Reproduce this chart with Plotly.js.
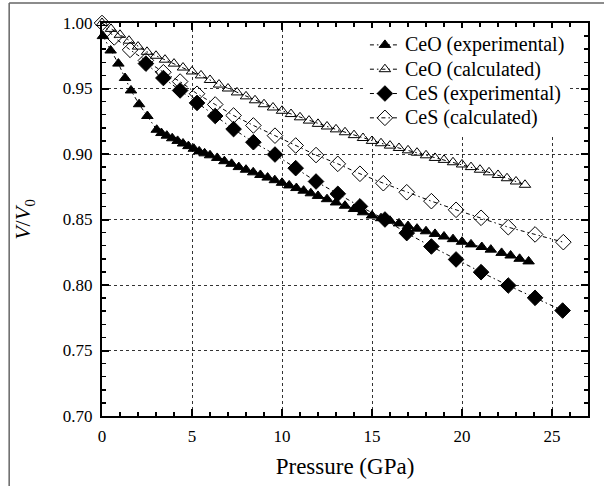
<!DOCTYPE html>
<html>
<head>
<meta charset="utf-8">
<script src="https://cdn.plot.ly/plotly-3.0.1.min.js"></script>
<style>html,body{margin:0;padding:0;background:#fff;}#chart{width:604px;height:486px;}</style>
</head>
<body>
<div id="chart"></div>
<script>
// CeO experimental (filled triangles)
const ceoExpP = [0.05, 0.48, 0.91, 1.28, 1.61, 2.06, 2.52, 3.04, 3.3, 3.6, 3.9, 4.2, 4.5, 4.8, 5.1, 5.4, 5.7, 6.0, 6.4, 6.8, 7.2, 7.6, 8.0, 8.4, 8.8, 9.2, 9.6, 10.0, 10.4, 10.8, 11.2, 11.6, 12.0, 12.5, 13.0, 13.5, 14.0, 14.5, 15.0, 15.5, 16.0, 16.5, 17.0, 17.5, 18.0, 18.5, 19.0, 19.5, 20.0, 20.5, 21.1, 21.6, 22.2, 22.7, 23.2, 23.7];
const ceoExpV = [0.990, 0.979, 0.969, 0.958, 0.9485, 0.938, 0.929, 0.9185, 0.916, 0.914, 0.912, 0.910, 0.908, 0.906, 0.904, 0.902, 0.9005, 0.899, 0.897, 0.8945, 0.8925, 0.890, 0.888, 0.886, 0.884, 0.882, 0.880, 0.878, 0.876, 0.874, 0.872, 0.870, 0.868, 0.8655, 0.863, 0.8605, 0.858, 0.8555, 0.853, 0.851, 0.849, 0.847, 0.845, 0.843, 0.841, 0.839, 0.837, 0.835, 0.833, 0.831, 0.829, 0.827, 0.8245, 0.8225, 0.820, 0.818];

// CeO calculated (open triangles)
const ceoCalP = [0, 0.5, 1.0, 1.5, 2.0, 2.5, 3.0, 3.5, 4.0, 4.5, 5.0, 5.5, 6.0, 6.5, 7.0, 7.5, 8.0, 8.5, 9.0, 9.5, 10.0, 10.5, 11.0, 11.5, 12.0, 12.5, 13.0, 13.5, 14.0, 14.5, 15.0, 15.5, 16.0, 16.5, 17.0, 17.5, 18.0, 18.5, 19.0, 19.5, 20.0, 20.5, 21.0, 21.5, 22.0, 22.5, 23.0, 23.5];
const ceoCalV = [1.000, 0.9955, 0.991, 0.9865, 0.982, 0.978, 0.975, 0.972, 0.969, 0.966, 0.963, 0.960, 0.9565, 0.953, 0.950, 0.947, 0.944, 0.941, 0.938, 0.9355, 0.933, 0.9305, 0.928, 0.9255, 0.923, 0.921, 0.9188, 0.9166, 0.9144, 0.9122, 0.910, 0.9082, 0.9064, 0.9046, 0.9028, 0.901, 0.899, 0.897, 0.8955, 0.8937, 0.892, 0.890, 0.888, 0.886, 0.884, 0.8815, 0.879, 0.8765];

// CeS experimental (filled diamonds)
const cesExpP = [2.44, 3.41, 4.34, 5.28, 6.29, 7.31, 8.41, 9.61, 10.76, 11.89, 13.1, 14.33, 15.72, 16.93, 18.3, 19.67, 21.06, 22.57, 24.06, 25.59];
const cesExpV = [0.969, 0.958, 0.9485, 0.939, 0.929, 0.919, 0.909, 0.8996, 0.8892, 0.879, 0.8696, 0.860, 0.850, 0.8396, 0.8294, 0.8195, 0.8098, 0.7996, 0.7902, 0.7805];

// CeS calculated (open diamonds)
const cesCalP = [0, 0.68, 1.56, 2.44, 3.41, 4.34, 5.28, 6.29, 7.31, 8.41, 9.61, 10.76, 11.89, 13.1, 14.33, 15.63, 16.93, 18.3, 19.67, 21.06, 22.57, 24.06, 25.63];
const cesCalV = [1.000, 0.989, 0.9795, 0.9714, 0.9624, 0.9553, 0.946, 0.9378, 0.9294, 0.9218, 0.914, 0.9065, 0.8992, 0.8925, 0.8849, 0.8777, 0.8708, 0.864, 0.8574, 0.8513, 0.8441, 0.8386, 0.8327];

const seriesNames = ['CeO (experimental)', 'CeO (calculated)', 'CeS (experimental)', 'CeS (calculated)'];

const FONT = "'Liberation Serif', 'DejaVu Serif', 'Times New Roman', Times, serif";
const dashPat = '4px,3px,1.5px,3px';

function tr(x, y, name, symbol, size) {
  return {
    x: x, y: y, name: '<span style="font-size:20px">' + name + '</span>',
    type: 'scatter', mode: 'lines+markers',
    cliponaxis: false,
    line: {color: '#000', width: 1, dash: dashPat},
    marker: {symbol: symbol, size: size, color: '#000', line: {color: '#000', width: 1}}
  };
}

const data = [
  tr(ceoExpP, ceoExpV, seriesNames[0], 'triangle-up', 10),
  tr(ceoCalP, ceoCalV, seriesNames[1], 'triangle-up-open', 10),
  tr(cesExpP, cesExpV, seriesNames[2], 'diamond', 12),
  tr(cesCalP, cesCalV, seriesNames[3], 'diamond-open', 12)
];

const axisCommon = {
  showline: true, linecolor: '#000', linewidth: 2, mirror: 'allticks',
  ticks: 'inside', ticklen: 7, tickwidth: 2, tickcolor: '#000',
  showgrid: true, gridcolor: '#333', gridwidth: 1, griddash: 'dot',
  zeroline: false, ticklabelstandoff: 4,
  tickfont: {family: FONT, size: 17, color: '#000'}
};

const layout = {
  width: 604, height: 486,
  margin: {l: 102, r: 16, t: 23, b: 70},
  paper_bgcolor: '#fff', plot_bgcolor: '#fff',
  font: {family: FONT, color: '#000'},
  showlegend: true,
  legend: {
    x: 0.541, y: 0.988, xanchor: 'left', yanchor: 'top',
    bgcolor: '#fff', borderwidth: 0,
    font: {family: FONT, size: 16.4, color: '#000'},
    tracegroupgap: 0
  },
  xaxis: Object.assign({}, axisCommon, {
    range: [0, 27], dtick: 5, tick0: 0,
    minor: {dtick: 1, ticks: 'inside', ticklen: 4, tickwidth: 1.5, tickcolor: '#000', showgrid: false},
    title: {text: 'Pressure (GPa)', font: {family: FONT, size: 23, color: '#000'}, standoff: 12}
  }),
  yaxis: Object.assign({}, axisCommon, {
    range: [0.70, 1.00], dtick: 0.05, tick0: 0.70, tickformat: '.2f',
    minor: {dtick: 0.01, ticks: 'inside', ticklen: 4, tickwidth: 1.5, tickcolor: '#000', showgrid: false},
    title: {text: '<i>V</i>/<i>V</i><sub>0</sub>', font: {family: FONT, size: 22, color: '#000'}, standoff: 26}
  }),
  shapes: [
    {type: 'line', xref: 'paper', yref: 'paper', x0: -0.191, x1: 1.04, y0: 1.051, y1: 1.051, line: {color: '#666', width: 1.5}},
    {type: 'line', xref: 'paper', yref: 'paper', x0: -0.191, x1: -0.191, y0: 1.051, y1: -0.19, line: {color: '#666', width: 1.5}}
  ]
};

Plotly.newPlot('chart', data, layout, {displayModeBar: false, staticPlot: true});
</script>
</body>
</html>
